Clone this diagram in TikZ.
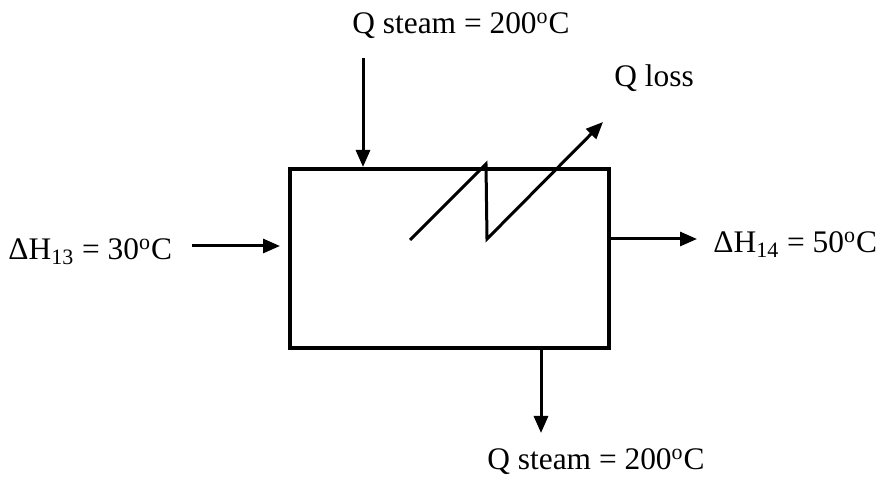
\documentclass[tikz,border=0pt]{standalone}
\usepackage{fontspec}
\setmainfont{Liberation Serif}
\usetikzlibrary{arrows.meta}

\begin{document}
\begin{tikzpicture}[
        x=0.5pt, y=-0.5pt,
        >={Triangle[length=8.5pt,width=7pt]},
        every node/.style={font=\fontsize{15.7}{18}\selectfont},
        unit/.style={draw,line width=2pt,minimum width=159.5pt,minimum height=89.5pt,inner sep=0pt},
        flow/.style={->,line width=1.5pt},
        lbl/.style={anchor=base west,inner sep=0pt}
    ]
    \useasboundingbox (0,0) rectangle (880,481);

    % Heater
    \node[unit] (hx) at (449.5,258.5) {};

    % Labels
    \node[lbl] (steamtop) at (352,34) {Q steam = 200\textsuperscript{o}C};
    \node[lbl] (loss) at (614,87) {Q loss};
    \node[lbl] (hin) at (8,260) {ΔH\textsubscript{13} = 30\textsuperscript{o}C};
    \node[lbl] (hout) at (713,253) {ΔH\textsubscript{14} = 50\textsuperscript{o}C};
    \node[lbl] (steambot) at (487,470) {Q steam = 200\textsuperscript{o}C};

    % Free ends
    \coordinate (sin) at (363,58);
    \coordinate (feed) at (192,246);
    \coordinate (prod) at (697,239);
    \coordinate (sout) at (541,433);

    % Streams
    \draw[flow] (sin) -- (sin |- hx.north);
    \draw[flow,shorten >=4pt] (feed) -- (feed -| hx.west);
    \draw[flow] (prod -| hx.east) -- (prod);
    \draw[flow] (sout |- hx.south) -- (sout);

    % Heat loss
    \coordinate (z1) at (410,240);
    \coordinate (z2) at (486,164);
    \coordinate (z3) at (487,239);
    \coordinate (z4) at (603,122);
    \draw[flow,line join=miter] (z1) -- (z2) -- (z3) -- (z4);

\end{tikzpicture}
\end{document}
